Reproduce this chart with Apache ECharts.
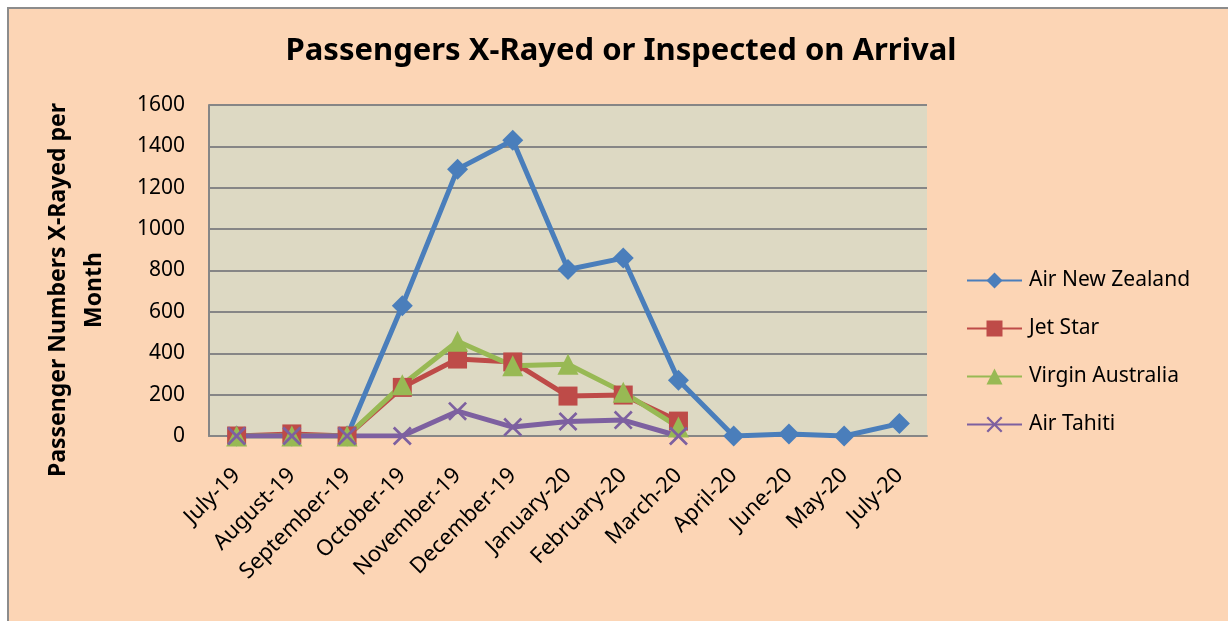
<!DOCTYPE html>
<html>
<head>
<meta charset="utf-8">
<script src="https://cdn.jsdelivr.net/npm/echarts@6/dist/echarts.min.js"></script>
<style>
  html,body{margin:0;padding:0;background:#fff;}
  #frame{position:absolute;left:7px;top:7px;width:1221px;height:614px;background:#FCD5B5;border-left:2px solid #8c8c8c;border-top:2px solid #8c8c8c;box-sizing:border-box;}
  #main{position:absolute;left:0;top:0;width:1228px;height:621px;}
</style>
</head>
<body>
<div id="frame"></div>
<div id="main"></div>
<script>
// months on the axis (as labelled in the original)
var months = ['July-19','August-19','September-19','October-19','November-19','December-19',
  'January-20','February-20','March-20','April-20','June-20','May-20','July-20'];
var airNZ   = [0, 0, 0, 630, 1290, 1430, 805, 860, 270, 0, 10, 0, 60];
var jetStar = [0, 10, 0, 235, 372, 358, 193, 198, 72, null, null, null, null];
var virgin  = [0, 0, 0, 248, 458, 340, 347, 212, 43, null, null, null, null];
var tahiti  = [0, 0, 0, 0, 120, 43, 70, 77, 0, null, null, null, null];
var yTicks = [0, 1600, 200];

var crossPath = 'path://M0,1L1,0L5,4L9,0L10,1L6,5L10,9L9,10L5,6L1,10L0,9L4,5Z';

function mkSeries(name, data, color, symbol, size){
  return {
    name: name, type: 'line', data: data,
    symbol: symbol, symbolSize: size,
    itemStyle: {color: color},
    lineStyle: {color: color, width: 5},
    connectNulls: false
  };
}

var myChart = echarts.init(document.getElementById('main'));
var option = {
  animation: false,
  textStyle: {fontFamily: 'Noto Sans'},
  title: {
    text: 'Passengers X-Rayed or Inspected on Arrival',
    left: 616, top: 31, textAlign: 'center',
    textStyle: {fontSize: 31, fontWeight: 'bold', color: '#000', fontFamily: 'Noto Sans'}
  },
  grid: {left: 209, top: 105, width: 718, height: 331, containLabel: false,
    show: true, backgroundColor: '#DDD9C3', borderWidth: 0},
  legend: {
    orient: 'vertical', left: 961, top: 265,
    itemWidth: 55, itemHeight: 20, itemGap: 27,
    textStyle: {fontSize: 21, color: '#000', fontFamily: 'Noto Sans', padding: [0,0,0,2]},
    data: ['Air New Zealand','Jet Star','Virgin Australia','Air Tahiti']
  },
  graphic: [{
    type: 'text', x: 76, y: 290, rotation: Math.PI/2,
    style: {text: 'Passenger Numbers X-Rayed per\nMonth', fontSize: 23, fontWeight: 'bold',
      fill: '#000', align: 'center', verticalAlign: 'middle', lineHeight: 36, fontFamily: 'Noto Sans'}
  }],
  xAxis: {
    type: 'category', data: months, boundaryGap: true,
    axisLine: {lineStyle: {color: '#868686', width: 2}},
    axisTick: {show: false},
    axisLabel: {rotate: 45, fontSize: 22, color: '#000', margin: 36, interval: 0}
  },
  yAxis: {
    type: 'value', min: yTicks[0], max: yTicks[1], interval: yTicks[2],
    axisLine: {show: true, lineStyle: {color: '#868686', width: 2}},
    axisTick: {show: false},
    axisLabel: {fontSize: 21, color: '#000', margin: 24, formatter: function(v){ return String(v); }},
    splitLine: {lineStyle: {color: '#868686', width: 2}}
  },
  series: [
    mkSeries('Air New Zealand', airNZ, '#4A7EBB', 'diamond', 21),
    mkSeries('Jet Star', jetStar, '#BE4B48', 'rect', 19),
    mkSeries('Virgin Australia', virgin, '#98B954', 'triangle', 21),
    mkSeries('Air Tahiti', tahiti, '#7D60A0', crossPath, 19)
  ]
};
myChart.setOption(option);
</script>
</body>
</html>
